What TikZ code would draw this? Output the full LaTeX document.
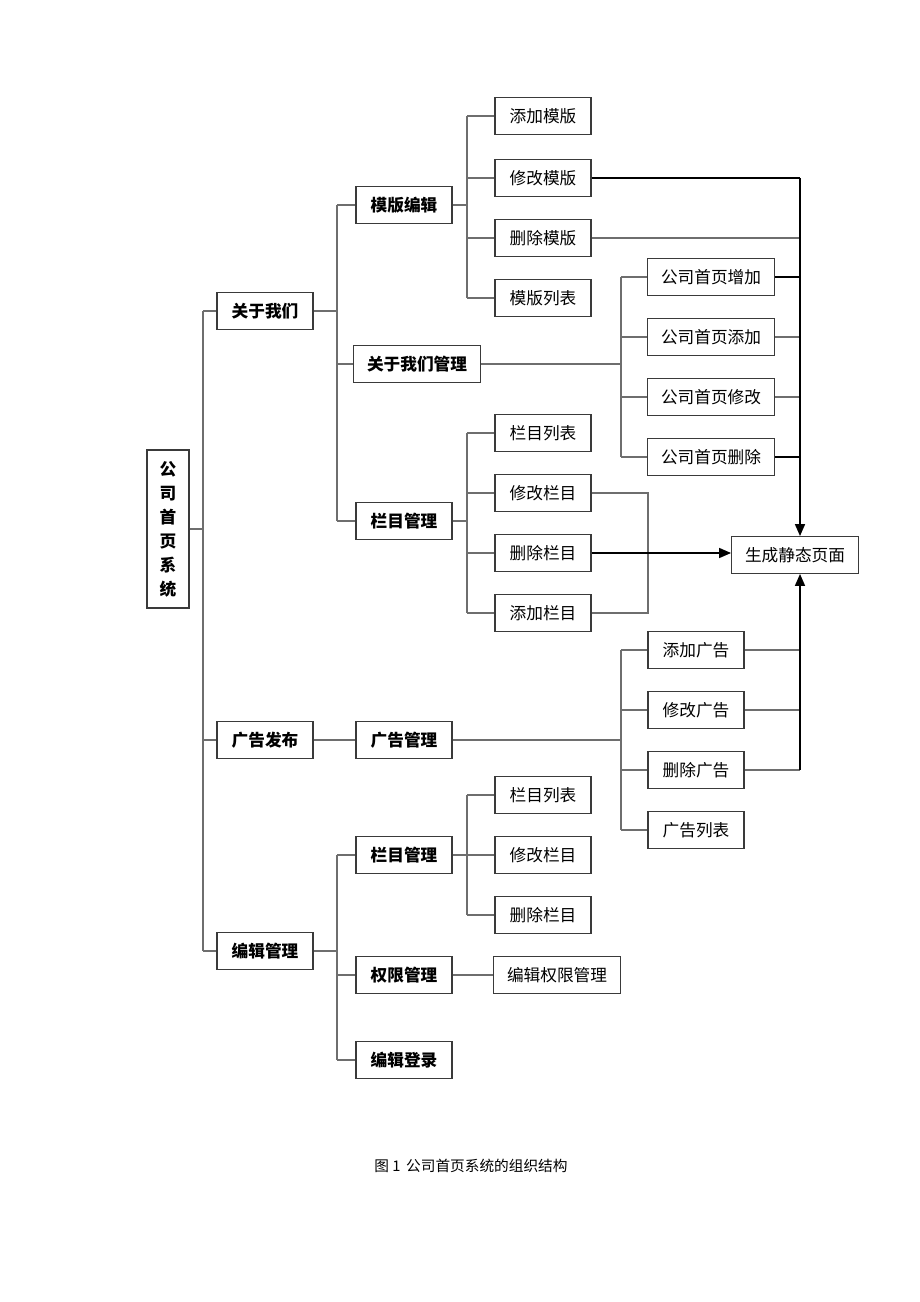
\documentclass[tikz,border=0pt]{standalone}
\usepackage{fontspec}
\setmainfont{Noto Sans CJK SC}
\usetikzlibrary{arrows.meta,calc}
\definecolor{BoxLine}{HTML}{3A3A3A}
\definecolor{LinkLine}{HTML}{6E6E6E}

\begin{document}
\begin{tikzpicture}[x=0.75pt,y=-0.75pt]
    \tikzset{item/.style={draw=BoxLine,line width=0.9pt,minimum width=72pt,minimum height=27.5pt,
      inner xsep=10pt,font=\fontsize{12.5}{14}\selectfont},
      head/.style={item,font=\fontsize{12.5}{14}\selectfont\bfseries},
      link/.style={draw=LinkLine,line width=0.8pt},
      bus/.style={draw=black,line width=1.2pt},
      feed/.style={bus,-{Triangle[length=9pt,width=7.5pt]}}}
    \useasboundingbox (0,0) rectangle (920,1302);
    % root
    \node[draw=BoxLine,line width=0.9pt,minimum width=31.5pt,minimum height=118.5pt,align=center,
      font=\fontsize{12.5}{18}\selectfont\bfseries] (root) at (168,529) {公\\司\\首\\页\\系\\统};
    % first level
    \node[head] (gy) at (265,311) {关于我们};
    \node[head] (gf) at (265,740) {广告发布};
    \node[head] (bg) at (265,951) {编辑管理};
    % second level
    \node[head] (mb) at (404,205) {模版编辑};
    \node[head] (gym) at (417,364) {关于我们管理};
    \node[head] (lm) at (404,521) {栏目管理};
    \node[head] (gg) at (404,740) {广告管理};
    \node[head] (lm2) at (404,855) {栏目管理};
    \node[head] (qx) at (404,975) {权限管理};
    \node[head] (dl) at (404,1060) {编辑登录};
    % leaves
    \node[item] (tjmb) at (543,116) {添加模版};
    \node[item] (xgmb) at (543,178) {修改模版};
    \node[item] (scmb) at (543,238) {删除模版};
    \node[item] (mblb) at (543,298) {模版列表};
    \node[item] (sy1) at (711,277) {公司首页增加};
    \node[item] (sy2) at (711,337) {公司首页添加};
    \node[item] (sy3) at (711,397) {公司首页修改};
    \node[item] (sy4) at (711,457) {公司首页删除};
    \node[item] (lmlb) at (543,433) {栏目列表};
    \node[item] (xglm) at (543,493) {修改栏目};
    \node[item] (sclm) at (543,553) {删除栏目};
    \node[item] (tjlm) at (543,613) {添加栏目};
    \node[item] (tjgg) at (696,650) {添加广告};
    \node[item] (xggg) at (696,710) {修改广告};
    \node[item] (scgg) at (696,770) {删除广告};
    \node[item] (gglb) at (696,830) {广告列表};
    \node[item] (lmlb2) at (543,795) {栏目列表};
    \node[item] (xglm2) at (543,855) {修改栏目};
    \node[item] (sclm2) at (543,915) {删除栏目};
    \node[item] (bjqx) at (557,975) {编辑权限管理};
    \node[item] (sc) at (795,555) {生成静态页面};
    % spines
    \coordinate (s0) at (203,0);
    \coordinate (s1) at (337,0);
    \coordinate (s2) at (467,0);
    \coordinate (s3) at (621,0);
    \coordinate (lx) at (648,0);
    \coordinate (bx) at (800,0);
    \draw[link] (root.east) -- (root.east -| s0);
    \draw[link] (s0 |- gy.west) -- (s0 |- bg.west);
    \foreach \c in {gy,gf,bg} \draw[link] (s0 |- \c.west) -- (\c.west);
    \draw[link] (gy.east) -- (gy.east -| s1);
    \draw[link] (s1 |- mb.west) -- (s1 |- lm.west);
    \foreach \c in {mb,gym,lm} \draw[link] (s1 |- \c.west) -- (\c.west);
    \draw[link] (mb.east) -- (mb.east -| s2);
    \draw[link] (s2 |- tjmb.west) -- (s2 |- mblb.west);
    \foreach \c in {tjmb,xgmb,scmb,mblb} \draw[link] (s2 |- \c.west) -- (\c.west);
    \draw[link] (gym.east) -- (gym.east -| s3);
    \draw[link] (s3 |- sy1.west) -- (s3 |- sy4.west);
    \foreach \c in {sy1,sy2,sy3,sy4} \draw[link] (s3 |- \c.west) -- (\c.west);
    \draw[link] (lm.east) -- (lm.east -| s2);
    \draw[link] (s2 |- lmlb.west) -- (s2 |- tjlm.west);
    \foreach \c in {lmlb,xglm,sclm,tjlm} \draw[link] (s2 |- \c.west) -- (\c.west);
    \draw[link] (xglm.east) -- (xglm.east -| lx) -- (lx |- tjlm.east) -- (tjlm.east);
    \draw[link] (gf.east) -- (gg.west);
    \draw[link] (gg.east) -- (gg.east -| s3);
    \draw[link] (s3 |- tjgg.west) -- (s3 |- gglb.west);
    \foreach \c in {tjgg,xggg,scgg,gglb} \draw[link] (s3 |- \c.west) -- (\c.west);
    \draw[link] (bg.east) -- (bg.east -| s1);
    \draw[link] (s1 |- lm2.west) -- (s1 |- dl.west);
    \foreach \c in {lm2,qx,dl} \draw[link] (s1 |- \c.west) -- (\c.west);
    \draw[link] (lm2.east) -- (lm2.east -| s2);
    \draw[link] (s2 |- lmlb2.west) -- (s2 |- sclm2.west);
    \foreach \c in {lmlb2,xglm2,sclm2} \draw[link] (s2 |- \c.west) -- (\c.west);
    \draw[link] (qx.east) -- (bjqx.west);
    % feeds into the static page
    \foreach \c in {scmb,sy2,sy3} \draw[link] (\c.east) -- (\c.east -| bx);
    \foreach \c in {xgmb,sy1,sy4} \draw[bus,line width=0.9pt] (\c.east) -- (\c.east -| bx);
    \draw[feed] (bx |- xgmb.east) -- (bx |- sc.north);
    \draw[feed] (sclm.east) -- (sclm.east -| sc.west);
    \foreach \c in {tjgg,xggg,scgg} \draw[link] (\c.east) -- (\c.east -| bx);
    \draw[feed] (bx |- scgg.east) -- (bx |- sc.south);
    % caption
    \node[font=\fontsize{11}{13}\selectfont] (cap) at (471,1166) {图 1\, 公司首页系统的组织结构};
\end{tikzpicture}
\end{document}
